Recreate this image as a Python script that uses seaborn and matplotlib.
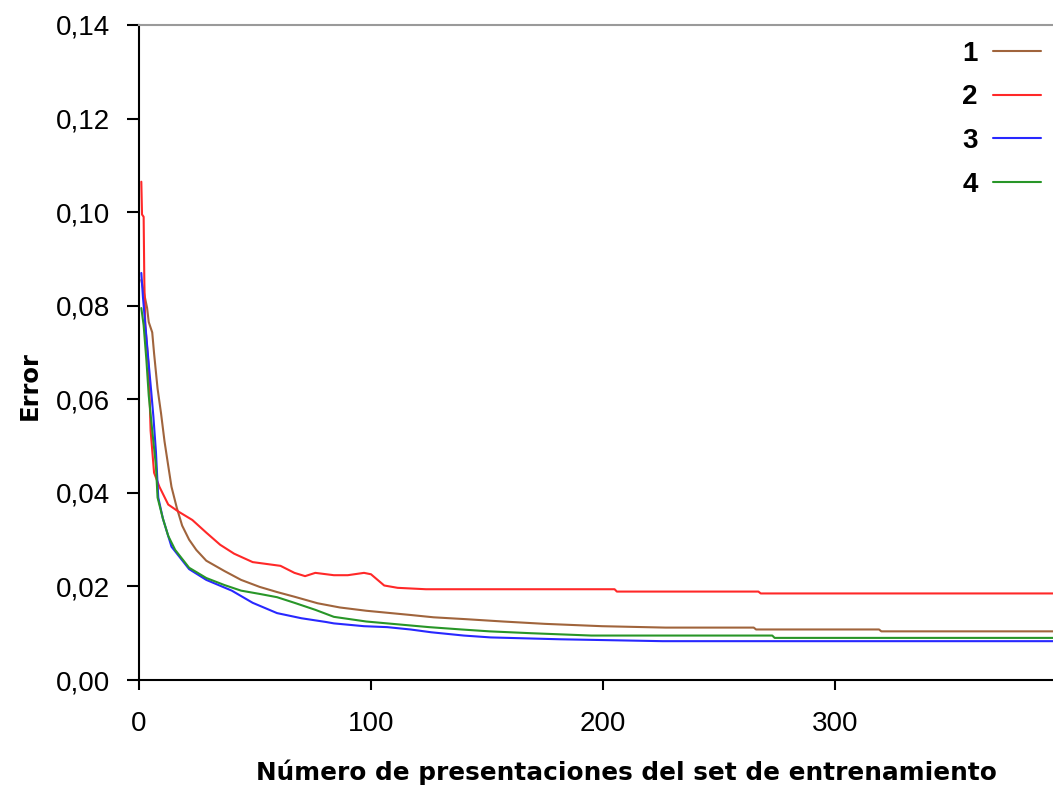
import numpy as np
import pandas as pd
import matplotlib
matplotlib.use("Agg")
import matplotlib.pyplot as plt
import seaborn as sns
from matplotlib.lines import Line2D

# ---- data ----
series_names = ["1", "2", "3", "4"]

x1 = [1, 3.5, 4.2, 5.7, 6.5, 8, 9.5, 11, 12.6, 14, 16.3, 18.6, 21.6, 24.7, 29, 36.8, 44, 52,
      59.5, 67, 77, 86.6, 98, 117, 127, 141, 157, 175, 199.6, 227, 265, 266, 319, 320, 394]
y1 = [0.0855, 0.0795, 0.0765, 0.0743, 0.0698, 0.0623, 0.0570, 0.0510, 0.0458, 0.0413, 0.0368,
      0.0330, 0.0300, 0.0278, 0.0255, 0.0233, 0.0214, 0.0199, 0.0188, 0.0178, 0.0164, 0.0155,
      0.0148, 0.0139, 0.0134, 0.0130, 0.0125, 0.0120, 0.0115, 0.0112, 0.0112, 0.0108, 0.0108,
      0.0104, 0.0104]

x2 = [1, 1.3, 2, 2.3, 2.7, 4.2, 5, 6.5, 8.8, 12.6, 17, 23, 29, 35, 41, 49, 55, 61, 67, 71.6,
      76, 84, 90, 97, 100, 105.7, 111.5, 123.7, 205, 206, 267, 268, 394]
y2 = [0.1065, 0.0995, 0.0990, 0.0851, 0.0758, 0.0668, 0.0533, 0.0443, 0.0413, 0.0375, 0.0360,
      0.0342, 0.0315, 0.0289, 0.0270, 0.0252, 0.0248, 0.0244, 0.0229, 0.0222, 0.0229, 0.0224,
      0.0224, 0.0229, 0.0226, 0.0202, 0.0197, 0.0194, 0.0194, 0.0189, 0.0189, 0.0185, 0.0185]

x3 = [1, 1.7, 4.2, 5.3, 6.2, 7.3, 8.3, 10.3, 14, 21.6, 29, 40, 49, 59.5, 70, 80.6, 84, 97, 107,
      117, 126, 132, 140, 151.6, 181.8, 225.7, 394]
y3 = [0.0870, 0.0818, 0.0675, 0.0615, 0.0563, 0.0488, 0.0390, 0.0345, 0.0285, 0.0237, 0.0214,
      0.0191, 0.0165, 0.0143, 0.0132, 0.0124, 0.0121, 0.0115, 0.0113, 0.0108, 0.0102, 0.0099,
      0.0095, 0.0091, 0.0087, 0.0083, 0.0083]

x4 = [1, 2, 3.2, 4.2, 5.7, 7.3, 8, 10.3, 12.6, 15.6, 21.6, 29, 36.8, 44, 52, 59.5, 67, 76, 84,
      98, 111.5, 125, 139, 151, 169, 195, 273, 274, 394]
y4 = [0.0795, 0.0758, 0.0683, 0.0608, 0.0533, 0.0458, 0.0390, 0.0345, 0.0308, 0.0278, 0.0240,
      0.0218, 0.0203, 0.0191, 0.0184, 0.0177, 0.0165, 0.0150, 0.0135, 0.0125, 0.0119, 0.0113,
      0.0108, 0.0104, 0.0100, 0.0095, 0.0095, 0.0090, 0.0090]

x_ticks = [0, 100, 200, 300]
y_ticks = [0.00, 0.02, 0.04, 0.06, 0.08, 0.10, 0.12, 0.14]
y_tick_labels = ["0,00", "0,02", "0,04", "0,06", "0,08", "0,10", "0,12", "0,14"]
x_label = "Número de presentaciones del set de entrenamiento"
y_label = "Error"

colors = {"1": "#A0643C", "2": "#FF2828", "3": "#2828FF", "4": "#289628"}

frames = []
for name, xs, ys in zip(series_names, [x1, x2, x3, x4], [y1, y2, y3, y4]):
    frames.append(pd.DataFrame({"x": xs, "y": ys, "serie": name}))
df = pd.concat(frames, ignore_index=True)

sns.set_style("white")
plt.rcParams["font.family"] = ["DejaVu Sans"]
plt.rcParams["text.color"] = "black"
plt.rcParams["axes.labelcolor"] = "black"
plt.rcParams["xtick.color"] = "black"
plt.rcParams["ytick.color"] = "black"

fig = plt.figure(figsize=(10.53, 8.02), dpi=100)
ax = fig.add_axes([139 / 1053, 122 / 802, 914 / 1053, 655 / 802])

sns.lineplot(data=df, x="x", y="y", hue="serie", palette=colors, estimator=None,
             sort=False, linewidth=1.5, ax=ax, legend=False)

ax.set_xlim(0, 394)
ax.set_ylim(0, 0.14)
ax.set_xticks(x_ticks)
ax.set_xticklabels([str(v) for v in x_ticks])
ax.set_yticks(y_ticks)
ax.set_yticklabels(y_tick_labels)

tick_font = ["Liberation Sans Narrow", "Liberation Sans", "DejaVu Sans"]
for lab in ax.get_xticklabels() + ax.get_yticklabels():
    lab.set_fontfamily(tick_font)
    lab.set_fontsize(20)
    lab.set_color("#000000")

ax.tick_params(axis="y", direction="out", length=9, width=1.5, color="black", pad=12, left=True)
ax.tick_params(axis="x", direction="out", length=7.5, width=1.5, color="black", pad=15, bottom=True)

for side in ["left", "bottom"]:
    ax.spines[side].set_color("black")
    ax.spines[side].set_linewidth(1.5)
ax.spines["top"].set_color("#9a9a9a")
ax.spines["top"].set_linewidth(1.5)
ax.spines["right"].set_visible(False)

ax.set_xlabel(x_label, fontsize=17.8, fontweight="bold", family=["DejaVu Sans"], color="black")
ax.set_ylabel(y_label, fontsize=17.5, fontweight="bold", family=["DejaVu Sans"], color="black")
ax.xaxis.set_label_coords((626 - 139) / 914, (680 - 772) / 655)
ax.yaxis.set_label_coords((30 - 139) / 914, (680 - 386) / 655)
ax.xaxis.label.set_verticalalignment("center")
ax.yaxis.label.set_verticalalignment("center")

handles = [Line2D([0], [0], color=colors[n], lw=1.5) for n in series_names]
leg = ax.legend(handles, series_names, loc="upper right", frameon=False, markerfirst=False,
                bbox_to_anchor=(1041 / 1053, 1 - 41 / 802), bbox_transform=fig.transFigure,
                borderpad=0, borderaxespad=0, handlelength=1.73, handletextpad=0.54,
                labelspacing=0.63, prop={"family": ["Liberation Sans", "DejaVu Sans"],
                                          "weight": "bold", "size": 20})
for t in leg.get_texts():
    t.set_color("black")

fig.savefig("out.png", dpi=100, facecolor="white")
